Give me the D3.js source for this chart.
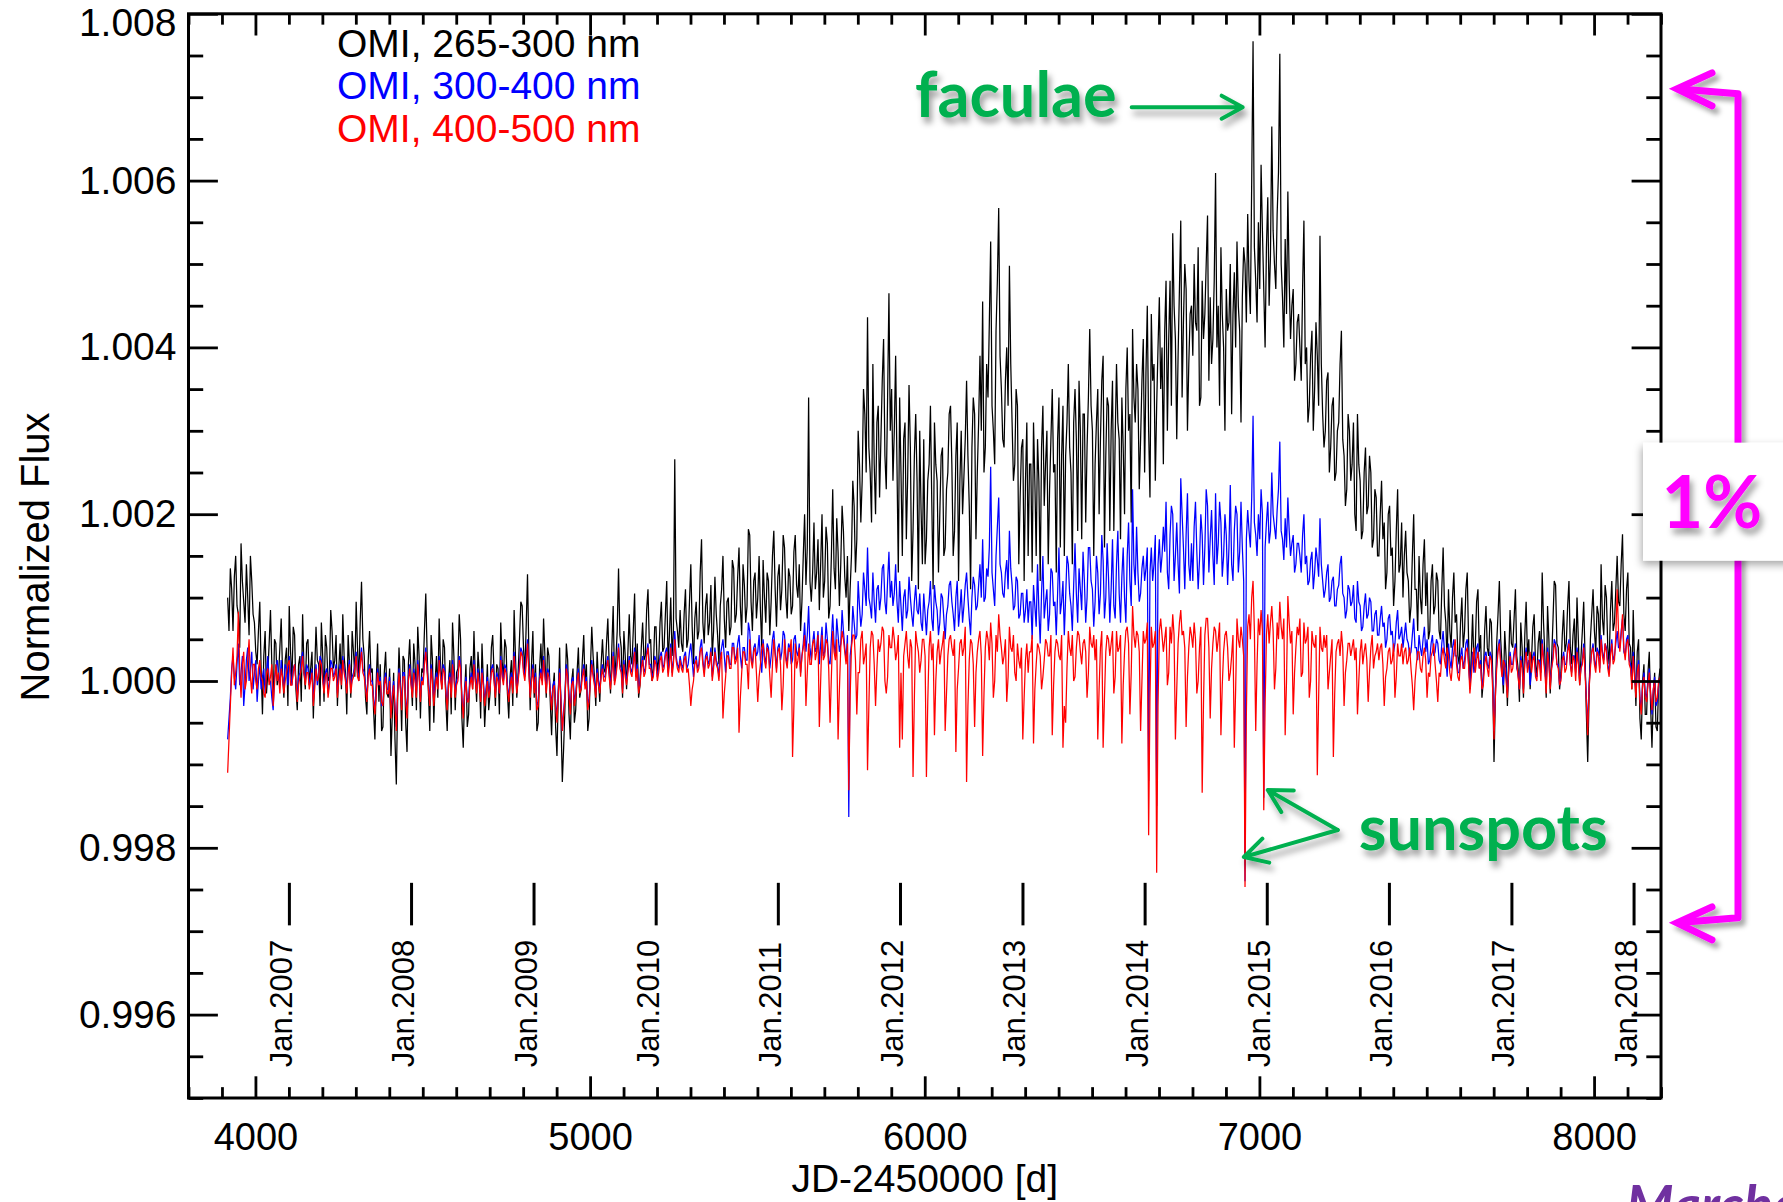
<!DOCTYPE html>
<html>
<head>
<meta charset="utf-8">
<script src="https://cdn.jsdelivr.net/npm/d3@7"></script>
<style>
  html, body { margin: 0; padding: 0; background: #fff; overflow: hidden; }
  svg { display: block; }
</style>
</head>
<body>
<svg id="chart" width="1783" height="1202"></svg>
<script>
// OMI band-integrated solar flux, normalized to the 2007-2010 minimum.
// Each band is sampled every stepDays days from startDay (JD-2450000);
// values are deviations from 1 in units of 1e-5 (20 samples = 80 days per row).
const startDay = 3917;
const stepDays = 4;

const dev265 = [
  100,60,135,110,60,125,150,90,80,40,165,120,95,70,140,100,55,150,120,80,
  70,35,20,60,95,15,-40,30,60,-15,10,45,85,20,-30,50,45,-5,5,40,
  75,10,-20,25,40,-30,90,35,0,65,55,-10,-35,20,30,-25,80,15,-10,45,
  50,-5,15,35,-45,10,65,25,20,-30,70,30,-25,55,40,0,5,85,60,15,
  25,55,-30,15,45,-10,80,30,10,-40,55,20,-20,60,35,5,95,40,0,70,
  119,50,30,-20,-40,25,60,10,15,-35,-70,0,45,-25,20,-60,-55,10,35,-15,
  -20,15,-90,-40,10,-70,-124,-20,40,0,-60,30,25,-50,-85,20,50,5,-30,45,
  20,-35,65,30,-45,15,10,60,105,35,-15,-60,55,25,-50,0,30,-20,75,20,
  -10,50,40,-25,-60,0,25,-40,70,30,-35,10,15,80,50,-45,-80,-15,20,-55,
  -40,15,30,-10,60,5,-25,35,10,-45,45,0,-55,-20,20,-35,-15,40,55,10,
  -30,20,15,-40,70,25,0,50,40,-15,-45,5,25,-30,85,30,-20,10,50,95,
  90,40,10,65,128,35,-35,20,60,-20,20,-60,-50,15,45,0,75,30,-20,40,
  30,-25,-65,-10,10,-55,-90,-15,40,-45,-121,-80,-30,45,25,-40,-70,0,15,-50,
  -35,10,40,-20,-10,25,55,-5,20,-60,-45,15,65,30,5,-30,35,0,-25,20,
  50,15,10,45,75,20,-15,40,90,0,25,60,135,55,40,-20,60,30,-10,35,
  80,30,20,60,105,10,45,-20,-5,40,70,25,30,85,110,45,50,0,15,65,
  65,10,25,70,95,35,40,80,120,20,55,100,30,60,266,75,60,40,85,45,
  35,80,110,40,50,95,140,65,20,75,95,50,60,130,170,70,45,90,105,55,
  70,115,30,60,125,80,55,20,90,110,150,75,40,95,100,55,65,145,135,70,
  80,125,160,90,55,140,115,70,90,182,175,95,60,120,130,75,100,150,85,40,
  145,100,70,130,120,55,95,150,180,110,65,125,140,85,110,175,160,100,75,135,
  125,80,90,155,175,115,100,140,60,95,150,200,115,160,340,120,95,130,190,110,
  130,170,85,140,200,100,120,185,165,75,90,150,230,135,110,195,155,90,140,210,
  180,125,100,150,60,110,150,240,210,130,170,300,260,190,240,350,320,250,436,280,
  250,190,380,260,200,310,330,220,290,360,410,270,230,340,465,300,350,240,300,390,
  260,130,340,250,150,290,310,170,245,355,280,120,180,270,320,240,110,300,205,140,
  290,140,170,240,260,330,215,110,310,260,240,130,200,270,280,150,160,230,250,320,
  330,260,150,180,270,310,120,240,300,200,245,290,360,270,210,110,280,340,320,170,
  250,310,390,300,455,250,280,380,340,430,527,330,300,260,420,480,567,390,350,290,
  280,360,400,330,498,380,310,240,260,350,330,140,220,280,290,120,240,310,150,260,
  260,130,310,240,150,290,240,120,280,330,210,260,300,140,230,290,350,250,260,130,
  290,340,160,270,330,150,270,310,380,280,250,140,310,350,290,180,360,300,170,320,
  320,190,280,340,422,330,300,150,260,310,350,200,290,360,390,160,270,340,330,180,
  300,360,180,290,380,310,290,170,340,280,200,350,400,300,320,190,422,340,310,380,
  350,230,290,360,410,250,370,450,300,220,440,360,380,240,330,400,460,350,400,260,
  420,480,300,410,480,330,537,450,410,290,390,470,552,340,430,500,470,300,380,440,
  450,390,500,430,420,520,330,340,480,410,440,500,558,360,460,380,410,480,609,400,
  450,330,520,440,400,300,470,420,430,500,320,440,490,400,527,450,420,310,460,520,
  500,430,560,480,440,600,767,520,480,430,550,470,619,540,470,400,520,580,450,510,
  665,540,500,470,560,610,752,500,460,400,530,440,587,480,410,450,470,360,380,430,
  440,400,360,470,552,380,400,310,330,390,420,300,350,430,390,330,534,380,320,280,
  300,360,370,250,280,330,340,240,250,300,310,380,420,290,270,210,230,320,300,240,
  260,310,200,180,320,260,240,170,180,250,280,200,210,270,250,160,170,230,220,150,
  150,200,240,170,190,110,130,200,210,150,160,90,120,180,230,130,140,190,100,150,
  180,130,120,70,90,150,200,110,110,60,150,100,80,140,170,90,130,50,60,120,
  140,80,90,130,120,60,50,110,160,90,70,20,110,60,40,100,130,70,80,30,
  20,70,100,40,60,110,130,50,-10,30,80,20,40,95,110,35,55,-20,0,60,
  90,40,30,75,70,10,-97,-20,45,80,120,50,20,-15,60,30,-30,25,85,45,
  40,75,110,30,15,-25,70,40,-20,55,95,30,50,-10,25,65,80,20,5,45,
  60,20,130,70,30,-20,90,50,-15,25,70,120,115,45,40,-10,10,55,85,35,
  45,90,120,40,20,55,75,15,100,50,-5,30,60,95,30,-40,-97,-20,50,80,
  110,60,35,90,80,30,140,75,55,115,100,40,20,85,120,60,70,110,150,95,
  90,140,176,80,60,110,130,45,40,-10,85,20,-30,35,50,-45,-70,0,20,-40,
  -40,10,35,-30,-80,-20,10,-55,-60,0,15
];

const dev300 = [
  -70,-45,-20,15,30,5,-10,20,45,-5,10,30,-30,-5,25,40,0,15,35,-10,
  10,25,-25,0,20,-10,5,15,-15,10,30,0,0,-20,-35,5,15,25,10,-5,
  25,5,-10,20,15,-5,30,10,-5,15,20,0,-20,5,10,25,35,10,0,20,
  15,-5,5,15,-25,0,20,-5,10,30,25,5,-10,10,15,-15,0,25,20,5,
  10,20,-15,5,20,0,30,15,5,-10,15,25,-10,5,10,20,35,10,5,25,
  40,15,10,-5,-20,10,20,0,0,-20,-35,-10,15,-5,5,-30,-25,0,10,-10,
  -10,5,-40,-15,0,-30,-55,-10,15,-5,-30,10,10,-20,-40,5,20,0,-15,15,
  5,-15,25,10,-20,5,0,25,40,15,-5,-25,20,5,-25,0,10,-5,30,10,
  -5,20,15,-10,-30,0,10,-15,25,10,-15,0,5,30,20,-20,-40,-10,5,-25,
  -20,0,10,-5,25,5,-10,15,0,-20,15,0,-25,-10,5,-15,-5,15,20,5,
  -15,10,5,-15,30,10,0,20,15,-5,-20,0,10,-10,35,15,-10,5,20,40,
  35,15,5,30,50,15,-15,5,20,-10,10,-30,-25,5,15,0,30,10,-10,15,
  10,-10,-30,-5,0,-25,-45,-10,15,-20,-60,-35,-15,20,10,-15,-35,0,5,-25,
  -15,5,15,-10,-5,10,20,-5,5,-30,-20,5,25,10,0,-15,15,0,-10,10,
  20,5,5,20,30,10,-5,15,35,0,10,25,45,20,15,-10,25,10,0,15,
  30,15,10,25,40,5,20,-10,0,20,30,10,15,35,45,20,20,5,10,30,
  25,5,15,30,35,15,20,35,40,10,25,45,10,25,60,30,20,15,30,20,
  15,30,35,15,20,35,45,25,5,25,30,15,20,40,50,25,10,30,35,20,
  25,40,5,20,40,25,20,5,30,40,50,30,10,35,35,20,20,45,45,25,
  30,45,55,30,15,40,40,25,25,70,60,30,20,40,45,30,35,55,25,10,
  50,30,20,45,40,15,30,50,60,35,15,40,45,25,35,60,55,30,20,45,
  40,20,25,50,55,35,30,45,10,30,45,70,35,55,90,40,25,45,60,35,
  40,60,20,45,65,30,35,70,50,25,20,50,80,45,30,75,55,35,45,85,
  60,40,25,55,-163,30,45,90,70,50,55,120,90,65,80,130,110,90,160,100,
  90,75,130,95,70,110,115,85,100,135,140,95,80,120,155,100,120,90,105,140,
  95,70,120,90,60,100,110,75,85,125,100,80,65,95,115,85,80,105,70,60,
  105,80,55,85,95,120,75,60,115,95,85,55,70,105,100,75,50,80,90,115,
  120,95,80,60,100,120,65,85,110,70,90,115,130,100,75,55,100,125,115,85,
  90,115,140,100,170,95,100,135,125,160,257,130,110,90,150,185,220,140,130,105,
  100,130,145,110,180,135,115,85,90,125,120,75,80,105,105,70,85,110,70,95,
  95,50,115,90,65,140,85,45,105,150,75,95,110,60,80,135,130,90,95,55,
  105,160,80,95,120,55,100,150,140,105,90,60,115,165,105,70,135,110,85,155,
  120,70,100,160,160,120,110,65,95,150,130,80,105,175,145,75,100,165,125,70,
  110,170,90,75,140,180,105,70,125,160,100,70,150,190,120,90,230,140,115,185,
  130,95,105,135,150,120,135,160,-120,130,160,120,140,175,-150,140,170,130,150,185,
  155,215,130,110,175,210,200,120,150,190,140,105,243,200,160,110,175,225,140,120,
  165,120,185,215,155,110,145,200,175,115,160,230,210,130,170,205,150,115,225,140,
  165,215,190,125,150,200,175,115,160,235,140,120,180,210,200,130,155,215,160,120,
  -240,170,205,180,160,220,318,190,175,150,200,170,230,200,-140,160,190,215,165,180,
  250,200,185,170,205,230,287,180,170,145,195,160,220,180,150,165,175,130,140,165,
  165,150,130,175,200,140,150,115,120,145,155,110,130,160,145,125,195,140,120,100,
  110,130,140,95,100,120,125,90,90,110,115,140,150,105,100,75,85,115,110,90,
  95,115,75,70,120,95,90,60,65,90,105,75,80,100,95,60,60,80,85,55,
  55,75,90,65,70,40,50,75,80,55,60,35,45,70,85,50,55,65,40,55,
  70,50,45,30,35,55,75,40,40,25,55,40,30,50,65,35,50,20,25,45,
  55,30,35,50,45,25,20,45,60,35,30,5,45,25,15,40,50,30,30,10,
  10,30,40,15,25,45,50,20,-5,15,35,10,20,40,45,15,25,-10,5,30,
  35,20,15,35,30,0,-60,-10,20,40,50,25,10,-5,25,15,-15,10,35,20,
  20,35,45,15,10,-10,30,20,-10,25,40,15,25,-5,15,30,35,10,5,25,
  25,10,50,30,15,-5,40,25,-5,15,30,50,45,20,20,-5,5,25,35,20,
  20,40,50,20,10,30,30,10,40,25,0,15,25,45,15,-20,-55,-5,20,35,
  45,25,15,40,35,15,55,35,25,45,40,20,10,35,50,25,30,45,60,40,
  40,60,75,35,30,50,55,25,20,0,35,10,-10,15,25,-20,-35,-5,10,-15,
  -20,0,15,-15,-40,-10,5,-30,-25,-5,5
];

const dev400 = [
  -110,-70,-30,10,40,-5,10,30,83,15,-20,20,35,-10,0,25,50,5,-15,20,
  20,0,-10,15,25,5,0,-15,-20,10,15,-5,5,20,-30,-5,20,0,10,-15,
  15,5,-15,0,10,20,25,-5,-5,10,20,0,-25,-5,5,15,30,10,-5,10,
  10,-10,0,10,-30,-10,15,0,5,25,20,0,-15,5,10,-20,-5,15,15,0,
  5,15,-20,0,15,-5,25,10,0,-15,10,20,-15,0,5,15,30,5,0,20,
  35,10,5,-10,-25,5,15,-5,-5,-25,-40,-15,10,-5,0,-25,-30,-5,5,-15,
  -15,0,-45,-20,-5,-30,-60,-15,10,-10,-35,5,5,-25,-45,0,15,-5,-20,10,
  0,-20,20,5,-25,0,-5,20,35,10,-10,-30,15,0,-30,-10,5,-10,25,5,
  -10,15,10,-15,-35,-5,5,-20,20,5,-20,-5,0,25,15,-20,-45,-15,0,-25,
  -25,-5,5,-10,20,0,-15,10,-5,-25,10,-5,-30,-15,0,-20,-10,10,15,0,
  -20,5,0,-15,25,5,-5,15,10,-10,-25,-5,5,-15,30,10,-15,0,15,35,
  30,10,0,20,45,10,-20,0,15,-15,5,-35,-30,0,10,-5,25,5,-15,10,
  5,-15,-35,-10,-5,-30,-50,-15,10,-25,-60,-40,-20,15,5,-20,-40,-5,0,-30,
  -20,0,10,-15,-10,5,15,-10,0,-35,-25,0,20,5,-5,-20,10,-5,-15,5,
  15,0,0,15,25,5,-10,10,30,-5,5,20,40,15,10,-15,20,5,-5,10,
  25,10,5,20,35,0,15,-15,-5,15,25,5,10,30,40,15,15,0,5,25,
  20,0,10,25,30,10,15,30,35,5,20,40,5,20,50,25,15,10,25,15,
  10,25,30,10,15,-5,-30,-10,0,20,25,10,15,35,40,20,5,25,30,15,
  20,35,0,15,35,20,15,0,25,35,-45,-15,5,30,30,15,15,40,40,20,
  25,40,-62,-20,10,35,35,20,20,-10,50,25,15,35,40,10,-25,5,20,40,
  45,25,15,40,35,5,-20,20,50,30,10,35,40,20,-35,-5,50,25,15,40,
  35,50,-91,-30,45,15,25,40,5,30,40,55,-30,10,45,20,20,45,50,25,
  35,55,-55,0,55,25,30,50,45,15,-50,5,60,35,25,50,-70,-10,40,60,
  50,35,20,45,-131,-20,40,55,55,25,-40,10,10,50,60,20,30,45,-107,-30,
  40,60,55,20,-30,15,50,35,45,65,60,0,-15,5,55,40,40,65,50,25,
  35,55,-80,10,-70,30,45,60,30,15,50,40,-115,-20,60,45,35,10,25,50,
  50,30,-115,-25,40,60,25,45,-65,0,35,50,20,35,45,60,-60,-15,30,50,
  55,40,30,50,-85,-10,15,45,50,30,40,65,-121,-30,25,50,45,20,-55,10,
  35,50,60,30,-90,-15,40,60,50,25,70,45,-20,0,55,35,80,55,40,20,
  30,50,-25,5,65,40,35,55,10,0,45,25,15,40,-70,-20,25,45,10,35,
  35,55,-75,-10,20,45,40,30,-10,5,25,50,45,30,30,55,-65,-5,35,50,
  45,30,25,55,-80,-30,-50,15,60,40,30,55,0,5,40,60,55,35,20,45,
  50,35,-20,10,65,45,40,55,25,50,-70,-10,40,60,-80,-20,35,55,50,30,
  45,60,-15,5,60,35,40,55,-75,-5,35,60,65,45,-40,10,90,55,40,60,
  55,35,-60,0,60,45,50,70,-185,-20,65,40,45,60,-230,-30,60,75,55,35,
  50,65,-5,10,65,45,80,55,-70,-10,45,70,85,55,60,40,-55,5,40,65,
  55,40,70,50,-15,0,40,65,-134,-25,55,75,75,40,-45,15,45,65,60,35,
  50,70,-65,-5,35,55,60,40,0,10,30,55,-80,-10,75,50,40,65,50,30,
  -247,-40,65,80,50,100,120,60,-60,20,75,55,85,60,-155,-30,55,80,45,70,
  90,60,-10,15,70,50,95,65,50,75,-65,0,102,70,45,60,-40,10,40,65,
  55,75,5,10,70,45,50,65,-20,0,60,45,40,55,-113,-20,65,40,35,55,
  40,55,-10,10,30,50,-91,-15,35,45,50,30,60,40,-30,10,25,45,45,30,
  40,50,25,40,-40,0,35,50,20,35,45,25,-25,10,40,55,15,30,35,45,
  25,40,45,20,-30,5,15,35,40,20,25,45,-20,5,45,30,30,45,20,35,
  40,20,25,40,15,-5,-35,0,20,35,35,15,10,30,40,25,-20,10,5,30,
  35,45,20,0,-25,10,5,30,40,25,15,40,30,10,0,20,35,50,20,5,
  0,25,30,15,15,35,40,20,-15,5,25,40,10,25,35,15,20,-10,-5,20,
  30,15,5,30,25,-10,-70,-20,15,35,45,20,5,25,20,0,-20,15,30,10,
  15,30,40,20,5,-10,25,15,-15,20,35,10,20,35,10,25,30,5,0,25,
  20,0,45,25,10,-15,35,20,-10,15,25,45,40,20,15,-5,0,25,30,10,
  15,35,45,20,5,30,25,0,35,20,-5,15,20,40,10,-25,-65,-10,15,35,
  40,20,10,35,30,10,50,30,20,45,35,15,5,30,45,20,25,55,110,60,
  35,55,80,40,25,45,50,20,15,-10,30,5,-20,10,20,-25,-40,-5,5,-20,
  -25,-5,10,-15,-35,-10,0,-25,-20,0,5
];

const seriesNames  = ["OMI, 265-300 nm", "OMI, 300-400 nm", "OMI, 400-500 nm"];
const seriesColors = ["#000000", "#0000ff", "#ff0000"];
const seriesDevs   = [dev265, dev300, dev400];

const xMajorTicks = [4000, 5000, 6000, 7000, 8000];
const yMajorTicks = [0.996, 0.998, 1.000, 1.002, 1.004, 1.006, 1.008];

// January 1st of each year, JD-2450000
const yearLabels = ["Jan.2007","Jan.2008","Jan.2009","Jan.2010","Jan.2011","Jan.2012",
                    "Jan.2013","Jan.2014","Jan.2015","Jan.2016","Jan.2017","Jan.2018"];
const yearDays   = [4101.5, 4466.5, 4832.5, 5197.5, 5562.5, 5927.5,
                    6293.5, 6658.5, 7023.5, 7388.5, 7754.5, 8119.5];

// ---------------------------------------------------------------- layout
const W = 1783, H = 1202;
const plot = { left: 188.5, right: 1661, top: 13.8, bottom: 1098 };
const svg = d3.select("#chart");

const x = d3.scaleLinear().domain([3800, 8200]).range([plot.left, plot.right]);
const y = d3.scaleLinear().domain([0.995, 1.008]).range([plot.bottom, plot.top]);

const FONT = "'Liberation Sans', Arial, Helvetica, sans-serif";
const ANNO = "Lato, 'Open Sans', sans-serif";

// drop shadows for the overlaid annotations
const defs = svg.append("defs");
function shadow(id, dx, dy, sd, op) {
  const f = defs.append("filter").attr("id", id)
    .attr("x", "-20%").attr("y", "-20%").attr("width", "140%").attr("height", "150%");
  f.append("feDropShadow").attr("dx", dx).attr("dy", dy)
    .attr("stdDeviation", sd).attr("flood-color", "#000").attr("flood-opacity", op);
}
shadow("txtShadow", 3, 6, 3, 0.38);
shadow("lineShadow", 4, 5, 2.5, 0.35);
shadow("boxShadow", -1, 4, 4, 0.35);

defs.append("clipPath").attr("id", "plotClip").append("rect")
  .attr("x", plot.left).attr("y", plot.top)
  .attr("width", plot.right - plot.left).attr("height", plot.bottom - plot.top);

// ---------------------------------------------------------------- data lines
const line = d3.line()
  .x((d, i) => x(startDay + i * stepDays))
  .y(d => y(1 + d * 1e-5));

svg.append("g").attr("clip-path", "url(#plotClip)")
  .selectAll("path").data(seriesDevs).join("path")
  .attr("d", d => line(d))
  .attr("fill", "none")
  .attr("stroke", (d, i) => seriesColors[i])
  .attr("stroke-width", 1.25)
  .attr("stroke-linejoin", "miter");

// ---------------------------------------------------------------- axes
const xMinor = d3.range(3800, 8201, 100).filter(v => v % 1000 !== 0);
const yMinor = d3.range(0, 27).map(k => 0.995 + k * 0.0005)
  .filter(v => !yMajorTicks.some(t => Math.abs(t - v) < 1e-7));

const xMajLen = 21.7, yMajLen = 29.4;

function styleAxis(g) {
  g.select(".domain").remove();
  g.selectAll(".tick line").attr("stroke", "#000").attr("stroke-width", 2.8);
  g.selectAll(".tick text").attr("fill", "#000").attr("font-family", FONT);
}

// bottom
svg.append("g").attr("transform", `translate(0,${plot.bottom})`)
  .call(d3.axisBottom(x).tickValues(xMinor).tickSize(-xMajLen / 2).tickFormat(""))
  .call(styleAxis);
svg.append("g").attr("transform", `translate(0,${plot.bottom})`)
  .call(d3.axisBottom(x).tickValues(xMajorTicks).tickSize(-xMajLen).tickPadding(25)
        .tickFormat(d3.format("d")))
  .call(styleAxis)
  .call(g => g.selectAll(".tick text").attr("font-size", 38));
// top
svg.append("g").attr("transform", `translate(0,${plot.top})`)
  .call(d3.axisTop(x).tickValues(xMinor).tickSize(-xMajLen / 2).tickFormat(""))
  .call(styleAxis);
svg.append("g").attr("transform", `translate(0,${plot.top})`)
  .call(d3.axisTop(x).tickValues(xMajorTicks).tickSize(-xMajLen).tickFormat(""))
  .call(styleAxis);
// left
svg.append("g").attr("transform", `translate(${plot.left},0)`)
  .call(d3.axisLeft(y).tickValues(yMinor).tickSize(-yMajLen / 2).tickFormat(""))
  .call(styleAxis);
svg.append("g").attr("transform", `translate(${plot.left},0)`)
  .call(d3.axisLeft(y).tickValues(yMajorTicks).tickSize(-yMajLen).tickPadding(12)
        .tickFormat(d3.format(".3f")))
  .call(styleAxis)
  .call(g => g.selectAll(".tick text").attr("font-size", 39)
    // the top label sits a little lower so it stays inside the page
    .attr("dy", d => d > 1.0075 ? "0.55em" : "0.32em"));
// right
svg.append("g").attr("transform", `translate(${plot.right},0)`)
  .call(d3.axisRight(y).tickValues(yMinor).tickSize(-yMajLen / 2).tickFormat(""))
  .call(styleAxis);
svg.append("g").attr("transform", `translate(${plot.right},0)`)
  .call(d3.axisRight(y).tickValues(yMajorTicks).tickSize(-yMajLen).tickFormat(""))
  .call(styleAxis);

// frame
svg.append("rect")
  .attr("x", plot.left).attr("y", plot.top)
  .attr("width", plot.right - plot.left).attr("height", plot.bottom - plot.top)
  .attr("fill", "none").attr("stroke", "#000").attr("stroke-width", 3);

// axis titles
svg.append("text")
  .attr("x", (plot.left + plot.right) / 2).attr("y", 1192)
  .attr("text-anchor", "middle").attr("font-family", FONT).attr("font-size", 39)
  .text("JD-2450000 [d]");
svg.append("text")
  .attr("transform", `translate(49,${(plot.top + plot.bottom) / 2 + 1}) rotate(-90)`)
  .attr("text-anchor", "middle").attr("font-family", FONT).attr("font-size", 40)
  .text("Normalized Flux");

// ---------------------------------------------------------------- year markers
const yearBand = [0.99758, 0.99707];
const yg = svg.append("g");
yg.selectAll("line").data(yearDays).join("line")
  .attr("x1", d => x(d)).attr("x2", d => x(d))
  .attr("y1", y(yearBand[0])).attr("y2", y(yearBand[1]))
  .attr("stroke", "#000").attr("stroke-width", 3);
yg.selectAll("text").data(yearDays).join("text")
  .attr("transform", d => `translate(${x(d) + 2.5},${y(yearBand[1]) + 142}) rotate(-90)`)
  .attr("font-family", FONT).attr("font-size", 31)
  .text((d, i) => yearLabels[i]);

// ---------------------------------------------------------------- legend
svg.append("g").selectAll("text").data(seriesNames).join("text")
  .attr("x", 337).attr("y", (d, i) => 57 + i * 42.3)
  .attr("font-family", FONT).attr("font-size", 39)
  .attr("fill", (d, i) => seriesColors[i])
  .text(d => d);

// ---------------------------------------------------------------- annotations
const green = "#00b050", magenta = "#ff00ff";

function arrow(g, x0, y0, x1, y1, color, width, head, spread) {
  const ang = Math.atan2(y1 - y0, x1 - x0);
  const a1 = ang + Math.PI - spread, a2 = ang + Math.PI + spread;
  g.append("path")
    .attr("d", `M${x0},${y0}L${x1},${y1}` +
      `M${x1 + head * Math.cos(a1)},${y1 + head * Math.sin(a1)}L${x1},${y1}` +
      `L${x1 + head * Math.cos(a2)},${y1 + head * Math.sin(a2)}`)
    .attr("fill", "none").attr("stroke", color).attr("stroke-width", width)
    .attr("stroke-linecap", "round").attr("stroke-linejoin", "round");
}

// faculae
const facTip = { day: 6950, flux: 1.00688 };
const fx = x(facTip.day), fy = y(facTip.flux);
const facG = svg.append("g").attr("filter", "url(#txtShadow)");
arrow(facG, fx - 111, fy, fx, fy, green, 4, 24, 0.5);
facG.append("text")
  .attr("x", fx - 126).attr("y", fy + 10).attr("text-anchor", "end")
  .attr("font-family", ANNO).attr("font-weight", 700).attr("font-size", 63)
  .attr("fill", green).text("faculae");

// sunspots
const spotFrom = { day: 7234, flux: 0.998213 };
const spotTips = [{ day: 7025, flux: 0.998693 }, { day: 6953.6, flux: 0.99789 }];
const sx = x(spotFrom.day), sy = y(spotFrom.flux);
const spotG = svg.append("g").attr("filter", "url(#txtShadow)");
spotTips.forEach(t => arrow(spotG, sx, sy, x(t.day), y(t.flux), green, 4, 26, 0.5));
spotG.append("text")
  .attr("x", sx + 21).attr("y", sy + 20)
  .attr("font-family", ANNO).attr("font-weight", 700).attr("font-size", 63)
  .attr("fill", green).text("sunspots");

// 1 % bracket
const span = { top: 1.0071, bottom: 0.9971 };
const bTip = plot.right + 16, bBar = plot.right + 77;
const yt = y(span.top), yb = y(span.bottom);
const brG = svg.append("g").attr("filter", "url(#lineShadow)");
brG.append("path")
  .attr("d", `M${bTip},${yt}L${bBar},${yt + 5}L${bBar},${yb - 5}L${bTip},${yb}`)
  .attr("fill", "none").attr("stroke", magenta).attr("stroke-width", 7)
  .attr("stroke-linejoin", "round");
[[bTip, yt], [bTip, yb]].forEach(([px, py]) => {
  brG.append("path")
    .attr("d", `M${px + 35},${py - 16}L${px},${py}L${px + 35},${py + 17}`)
    .attr("fill", "none").attr("stroke", magenta).attr("stroke-width", 7)
    .attr("stroke-linecap", "round").attr("stroke-linejoin", "miter");
});

const boxMid = y(1.00215);
svg.append("rect")
  .attr("x", plot.right - 18).attr("y", boxMid - 59)
  .attr("width", W - plot.right + 40).attr("height", 118)
  .attr("fill", "#fff").attr("filter", "url(#boxShadow)");
svg.append("text")
  .attr("x", (plot.right - 18 + W) / 2 - 1).attr("y", boxMid + 26)
  .attr("text-anchor", "middle")
  .attr("font-family", ANNO).attr("font-weight", 700).attr("font-size", 72)
  .attr("fill", magenta).attr("filter", "url(#txtShadow)")
  .text("1%");

// credit, running off the lower right edge
svg.append("text")
  .attr("x", 1626).attr("y", 1224)
  .attr("font-family", ANNO).attr("font-weight", 700).attr("font-style", "italic")
  .attr("font-size", 54).attr("fill", "#7030a0")
  .text("Marchenko et al.");
</script>
</body>
</html>
